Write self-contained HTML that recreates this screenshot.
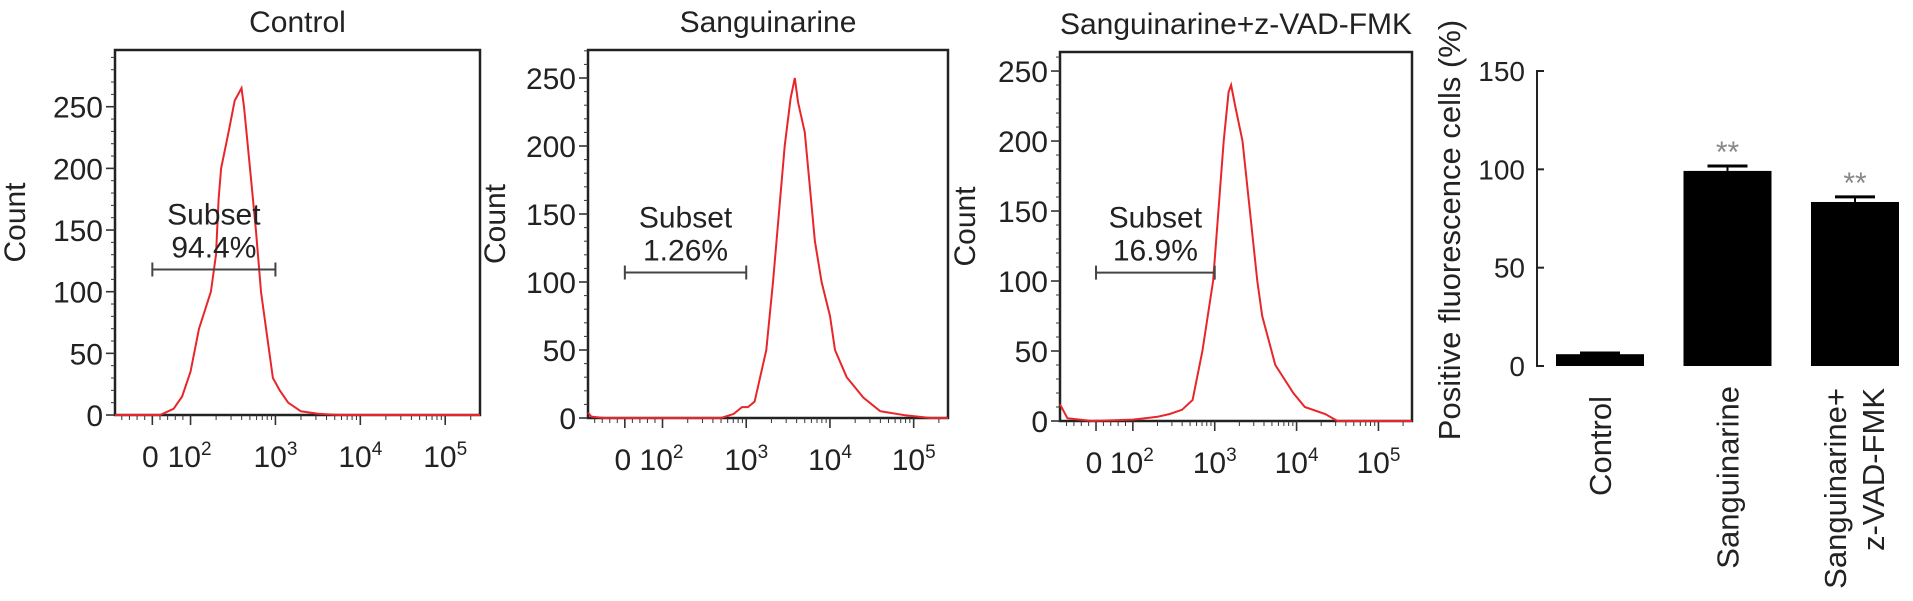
<!DOCTYPE html>
<html><head><meta charset="utf-8"><style>
html,body{margin:0;padding:0;background:#fff;}
svg{display:block;font-family:"Liberation Sans",Arial,sans-serif;}
</style></head><body>
<svg id="fig" width="1913" height="601" viewBox="0 0 1913 601" xmlns="http://www.w3.org/2000/svg"></svg>
<script>
// ---- Histogram data (u: display decade units, 2=10^2, 3=10^3 ...; count) ----
const ctrlU   = [1.11,1.64,1.8,1.9,2.0,2.1,2.24,2.3,2.33,2.36,2.45,2.52,2.6,2.63,2.7,2.77,2.83,2.9,2.97,3.05,3.15,3.3,3.5,3.75,5.41];
const ctrlC   = [0,0,5,15,35,70,100,130,175,200,230,255,265,250,200,150,100,65,30,20,10,3,1,0,0];
const sangU   = [1.11,1.15,1.3,2.5,2.7,2.85,2.95,3.02,3.1,3.24,3.32,3.46,3.53,3.58,3.62,3.7,3.82,3.9,4.0,4.06,4.2,4.4,4.6,4.9,5.2,5.41];
const sangC   = [4,1,0,0,0,3,8,8,12,50,100,200,235,250,232,210,130,100,75,50,30,15,5,2,0,0];
const zvadU   = [1.11,1.2,1.5,2.0,2.3,2.45,2.6,2.73,2.85,2.98,3.11,3.17,3.2,3.25,3.34,3.52,3.58,3.74,3.96,4.1,4.35,4.5,5.41];
const zvadC   = [12,2,0,1,3,5,8,15,50,100,200,235,240,225,200,100,75,40,20,10,5,0,0];
// ---- Gates ----
const gateLabels = ["94.4%","1.26%","16.9%"];
const gateFromU = [1.55,1.55,1.55];
const gateToU   = [3.0,3.0,3.0];
const gateCount = [118,107,106];
// ---- Axis ticks ----
const countTicks = [0,50,100,150,200,250];
const decadeTicks = [2,3,4,5];
const decadeLabels = ["2","3","4","5"];
// ---- Bar chart data ----
const barCategories = ["Control","Sanguinarine","Sanguinarine+|z-VAD-FMK"];
const barValues = [6,99.2,83.4];
const barErrors = [0.6,2.5,2.6];
const barStars = ["","**","**"];
const barTicks = [0,50,100,150];

const NS="http://www.w3.org/2000/svg";
const svg=document.getElementById('fig');
function mk(tag,attrs,parent){const e=document.createElementNS(NS,tag);for(const k in attrs)e.setAttribute(k,attrs[k]);(parent||svg).appendChild(e);return e;}

const panels=[
 {title:"Control",name:"control",left:115,right:480,top:50,bottom:415,ymax:296,countX:25,U:ctrlU,C:ctrlC},
 {title:"Sanguinarine",name:"sanguinarine",left:588,right:948,top:50,bottom:418,ymax:270.6,countX:505,U:sangU,C:sangC},
 {title:"Sanguinarine+z-VAD-FMK",name:"sanguinarine-zvad",left:1060,right:1412,top:52,bottom:421,ymax:263.6,countX:975,U:zvadU,C:zvadC}
];
const U0=1.11,U1=5.41,ZERO_U=1.55;

panels.forEach((p,pi)=>{
  const g=mk('g',{});
  
  
  const X=u=>p.left+(u-U0)/(U1-U0)*(p.right-p.left);
  const Y=c=>p.bottom-c/p.ymax*(p.bottom-p.top);
  const t=mk('text',{x:(p.left+p.right)/2,y:p.top-18,'text-anchor':'middle','font-size':30,fill:'#222'},g);
  t.textContent=p.title;
  
  
  const fr=mk('rect',{x:p.left,y:p.top,width:p.right-p.left,height:p.bottom-p.top,fill:'none',stroke:'#222','stroke-width':2.5},g);
  
  
  for(let v=0;v<=p.ymax;v+=10){
    const major=v%50===0;
    mk('line',{x1:p.left-(major?9:4),x2:p.left,y1:Y(v),y2:Y(v),stroke:'#333','stroke-width':major?1.6:1},g);
  }
  countTicks.forEach(v=>{
    const tl=mk('text',{x:p.left-12,y:Y(v)+11,'text-anchor':'end','font-size':30,fill:'#222'},g);
    tl.textContent=v;
    
    
  });
  const cy=(p.top+p.bottom)/2;
  const cl=mk('text',{x:p.countX+10,y:cy,'text-anchor':'middle','font-size':30,fill:'#222',transform:`rotate(-90 ${p.countX} ${cy})`},g);
  cl.textContent="Count";
  
  
  const minor=[];
  for(let v=-100;v<=80;v+=20){const u=ZERO_U+v/100*0.45;if(u>=U0)minor.push(u);}
  for(let k=2;k<=5;k++)for(let m=2;m<=9;m++){const u=k+Math.log10(m);if(u<=U1)minor.push(u);}
  minor.forEach(u=>mk('line',{x1:X(u),x2:X(u),y1:p.bottom,y2:p.bottom+5,stroke:'#333','stroke-width':1},g));
  [ZERO_U].concat(decadeTicks).forEach(u=>mk('line',{x1:X(u),x2:X(u),y1:p.bottom,y2:p.bottom+10,stroke:'#333','stroke-width':1.6},g));
  const z=mk('text',{x:X(ZERO_U)-2,y:p.bottom+52,'text-anchor':'middle','font-size':30,fill:'#222'},g);
  z.textContent="0";
  
  
  decadeTicks.forEach((u,i)=>{
    const tl=mk('text',{x:X(u)+(i===0?-1:0),y:p.bottom+52,'text-anchor':'middle','font-size':30,fill:'#222'},g);
    tl.textContent="10";
    const s=mk('tspan',{dy:-12,'font-size':19},tl);
    s.textContent=decadeLabels[i];
    
    
  });
  const d=p.U.map((u,i)=>(i?'L':'M')+X(u).toFixed(1)+','+Y(p.C[i]).toFixed(1)).join('');
  const path=mk('path',{d:d,fill:'none',stroke:'#e8262a','stroke-width':2},g);
  
  
  const gx1=X(gateFromU[pi]),gx2=X(gateToU[pi]),gy=Y(gateCount[pi]);
  const gate=mk('g',{},g);
  
  
  mk('line',{x1:gx1,x2:gx2,y1:gy,y2:gy,stroke:'#444','stroke-width':2},gate);
  mk('line',{x1:gx1,x2:gx1,y1:gy-7,y2:gy+7,stroke:'#444','stroke-width':2},gate);
  mk('line',{x1:gx2,x2:gx2,y1:gy-7,y2:gy+7,stroke:'#444','stroke-width':2},gate);
  const gt=mk('text',{x:(gx1+gx2)/2,y:gy-45,'text-anchor':'middle','font-size':30,fill:'#222'},gate);
  gt.textContent="Subset";
  const gp=mk('text',{x:(gx1+gx2)/2,y:gy-12,'text-anchor':'middle','font-size':30,fill:'#222'},gate);
  gp.textContent=gateLabels[pi];
  
  
});

// ---- Bar chart ----
const bg=mk('g',{});


const AX=1537,BT=71,BB=366,BMAX=150;
const BY=v=>BB-v/BMAX*(BB-BT);
const barLeft0=1556,barStep=127.5,barW=88;
const bx=i=>barLeft0+i*barStep;
mk('line',{x1:AX,x2:AX,y1:BT,y2:BB,stroke:'#222','stroke-width':2},bg);
barTicks.forEach(v=>{
  mk('line',{x1:AX-1,x2:AX+7,y1:BY(v),y2:BY(v),stroke:'#222','stroke-width':2},bg);
  const tl=mk('text',{x:AX-12,y:BY(v)+10,'text-anchor':'end','font-size':28,fill:'#222'},bg);
  tl.textContent=v;
  
  
});
const at=mk('text',{x:1471,y:241,'text-anchor':'middle','font-size':31,fill:'#222',transform:'rotate(-90 1460 241)'},bg);
at.textContent="Positive fluorescence cells (%)";


barValues.forEach((v,i)=>{
  const x=bx(i),cx=x+barW/2;
  const r=mk('rect',{x:x,y:BY(v),width:barW,height:BB-BY(v),fill:'#000'},bg);
  
  
  const ey=BY(v+barErrors[i]);
  mk('line',{x1:cx,x2:cx,y1:BY(v),y2:ey,stroke:'#000','stroke-width':2},bg);
  mk('line',{x1:cx-20,x2:cx+20,y1:ey,y2:ey,stroke:'#000','stroke-width':3},bg);
  if(barStars[i]){
    const s=mk('text',{x:cx,y:ey-4,'text-anchor':'middle','font-size':30,fill:'#888'},bg);
    s.textContent=barStars[i];
    
    
  }
  const lines=barCategories[i].split('|');
  lines.forEach((ln,j)=>{
    const lx=cx+(lines.length>1?(j===0?-20:18):0)+11;
    const ly=lines.length>1?388:(i===0?396:386);
    const tl=mk('text',{x:lx,y:ly,'text-anchor':'end','font-size':31,fill:'#222',transform:`rotate(-90 ${lx} ${ly})`},bg);
    tl.textContent=ln;
    
    
  });
});
</script>
</body></html>
